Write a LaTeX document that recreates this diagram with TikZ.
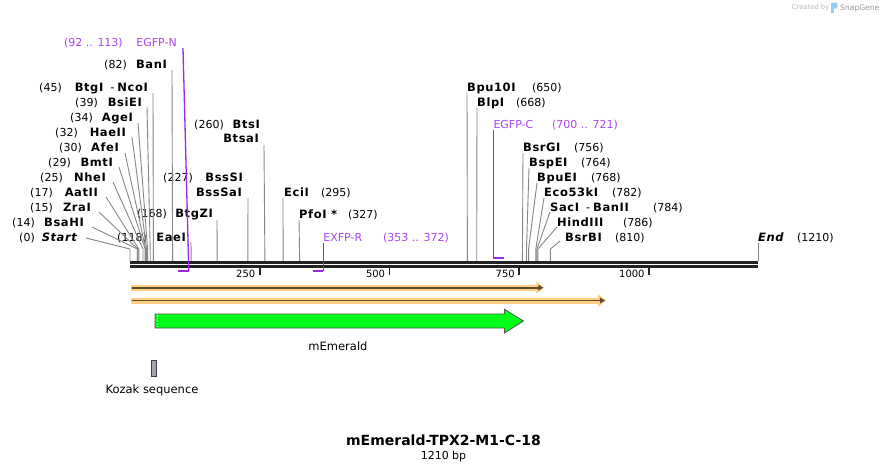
\documentclass[tikz,border=0pt]{standalone}
\usepackage{fontspec}
\setmainfont{DejaVu Sans}
\newfontfamily\sitefont[LetterSpace=5]{DejaVu Sans}
\usepackage{tikz}
\usetikzlibrary{arrows.meta,positioning}
\definecolor{backbone}{RGB}{35,35,35}
\definecolor{siteline}{RGB}{135,135,135}
\definecolor{primer}{RGB}{155,40,235}
\definecolor{primertext}{RGB}{170,70,240}
\definecolor{halo}{RGB}{255,205,130}
\definecolor{featdark}{RGB}{95,75,45}
\definecolor{emerald}{RGB}{0,255,25}
\definecolor{emeraldline}{RGB}{75,90,75}
\definecolor{kozak}{RGB}{160,165,175}
\definecolor{kozakline}{RGB}{60,62,70}
\definecolor{credit}{RGB}{185,185,185}
\definecolor{creditdark}{RGB}{150,150,150}
\definecolor{logo}{RGB}{150,205,240}
\tikzset{
  site/.style={draw=siteline, line width=0.9pt},
  enzyme/.style={font={\fontsize{11.5pt}{13pt}\sitefont\bfseries}, text height=8.4pt},
  cutpos/.style={font={\fontsize{11pt}{13pt}\selectfont}},
  primerlbl/.style={text=primertext, font={\fontsize{11pt}{13pt}\selectfont}},
  primerline/.style={draw=primer, line width=1.3pt},
  primerbar/.style={draw=primer, line width=2pt},
  bbline/.style={draw=backbone, line width=2.6pt},
  tickline/.style={draw=backbone, line width=1.8pt},
  ticklbl/.style={font={\fontsize{10pt}{12pt}\selectfont}, text height=7.3pt},
  featlbl/.style={font={\fontsize{11.5pt}{13pt}\selectfont}},
  halotrack/.style={draw=halo, line width=6pt},
  feattrack/.style={draw=featdark, line width=1.6pt}}

\begin{document}
\begin{tikzpicture}[x=1pt,y=-1pt]
\tikzstyle{every node}+=[inner sep=0pt, text height=8pt, text depth=0pt]
\useasboundingbox[fill=white] (0,0) rectangle (889,471);
% cut sites on the top strand
\coordinate (s0) at (130,261);
\coordinate (s14) at (137.3,261);
\coordinate (s15) at (137.8,261);
\coordinate (s17) at (138.8,261);
\coordinate (s25) at (143.0,261);
\coordinate (s29) at (145.1,261);
\coordinate (s30) at (145.6,261);
\coordinate (s32) at (146.6,261);
\coordinate (s34) at (147.6,261);
\coordinate (s39) at (150.2,261);
\coordinate (s45) at (153.4,261);
\coordinate (s82) at (172.6,261);
\coordinate (s118) at (191.2,261);
\coordinate (s168) at (217.2,261);
\coordinate (s227) at (247.8,261);
\coordinate (s260) at (264.9,261);
\coordinate (s295) at (283.1,261);
\coordinate (s327) at (299.7,261);
\coordinate (s650) at (467.4,261);
\coordinate (s668) at (476.7,261);
\coordinate (s756) at (522.4,261);
\coordinate (s764) at (526.5,261);
\coordinate (s768) at (528.6,261);
\coordinate (s782) at (535.8,261);
\coordinate (s784) at (536.9,261);
\coordinate (s786) at (537.9,261);
\coordinate (s810) at (550.4,261);
\coordinate (s1210) at (758,261);

% left group
\node [enzyme, anchor=east] (startlbl) at (77,237) {\itshape Start};
\node [cutpos, anchor=east] (startpos) at (35,237) {(0)};
\node [enzyme, anchor=east] (bsahi) at (84,222) {BsaHI};
\node [cutpos, anchor=east] (bsahipos) at (35,222) {(14)};
\node [enzyme, anchor=east] (zrai) at (91,207) {ZraI};
\node [cutpos, anchor=east] (zraipos) at (53,207) {(15)};
\node [enzyme, anchor=east] (aatii) at (98,192) {AatII};
\node [cutpos, anchor=east] (aatiipos) at (53,192) {(17)};
\node [enzyme, anchor=east] (nhei) at (106,177) {NheI};
\node [cutpos, anchor=east] (nheipos) at (63,177) {(25)};
\node [enzyme, anchor=east] (bmti) at (113,162) {BmtI};
\node [cutpos, anchor=east] (bmtipos) at (71,162) {(29)};
\node [enzyme, anchor=east] (afei) at (119,147) {AfeI};
\node [cutpos, anchor=east] (afeipos) at (82,147) {(30)};
\node [enzyme, anchor=east] (haeii) at (126,132) {HaeII};
\node [cutpos, anchor=east] (haeiipos) at (78,132) {(32)};
\node [enzyme, anchor=east] (agei) at (133,117) {AgeI};
\node [cutpos, anchor=east] (ageipos) at (93,117) {(34)};
\node [enzyme, anchor=east] (bsiei) at (142,102) {BsiEI};
\node [cutpos, anchor=east] (bsieipos) at (98,102) {(39)};
\node [enzyme, anchor=east] (btgi) at (148,87) {BtgI\hspace{7pt}{\mdseries -}\hspace{3pt}NcoI};
\node [cutpos, anchor=east] (btgipos) at (62,87) {(45)};
\node [enzyme, anchor=east] (bani) at (167,64) {BanI};
\node [cutpos, anchor=east] (banipos) at (127,64) {(82)};
\node [enzyme, anchor=east] (eaei) at (186,237) {EaeI};
\node [cutpos, anchor=east] (eaeipos) at (147,237) {(118)};
\node [enzyme, anchor=east] (btgzi) at (213,213) {BtgZI};
\node [cutpos, anchor=east] (btgzipos) at (167,213) {(168)};
\node [enzyme, anchor=east] (bsssi) at (243,177) {BssSI};
\node [enzyme, anchor=east] (bsssai) at (242,192) {BssSaI};
\node [cutpos, anchor=east] (bsssipos) at (193,177) {(227)};
\node [enzyme, anchor=east] (btsi) at (260,124) {BtsI};
\node [enzyme, anchor=east] (btsai) at (259,138) {BtsaI};
\node [cutpos, anchor=east] (btsipos) at (224,124) {(260)};

% right group
\node [enzyme, anchor=west] (ecii) at (284,192) {EciI};
\node [cutpos, anchor=west] (eciipos) at (321,192) {(295)};
\node [enzyme, anchor=west] (pfoi) at (299,214) {PfoI *};
\node [cutpos, anchor=west] (pfoipos) at (348,214) {(327)};
\node [enzyme, anchor=west] (bpui) at (467,87) {Bpu10I};
\node [cutpos, anchor=west] (bpuipos) at (532,87) {(650)};
\node [enzyme, anchor=west] (blpi) at (477,102) {BlpI};
\node [cutpos, anchor=west] (blpipos) at (516,102) {(668)};
\node [enzyme, anchor=west] (bsrgi) at (523,147) {BsrGI};
\node [cutpos, anchor=west] (bsrgipos) at (574,147) {(756)};
\node [enzyme, anchor=west] (bspei) at (529,162) {BspEI};
\node [cutpos, anchor=west] (bspeipos) at (581,162) {(764)};
\node [enzyme, anchor=west] (bpuei) at (537,177) {BpuEI};
\node [cutpos, anchor=west] (bpueipos) at (591,177) {(768)};
\node [enzyme, anchor=west] (ecoki) at (544,192) {Eco53kI};
\node [cutpos, anchor=west] (ecokipos) at (612,192) {(782)};
\node [enzyme, anchor=west] (saci) at (550,207) {SacI\hspace{7pt}{\mdseries -}\hspace{3pt}BanII};
\node [cutpos, anchor=west] (sacipos) at (653,207) {(784)};
\node [enzyme, anchor=west] (hindiii) at (557,222) {HindIII};
\node [cutpos, anchor=west] (hindiiipos) at (623,222) {(786)};
\node [enzyme, anchor=west] (bsrbi) at (565,237) {BsrBI};
\node [cutpos, anchor=west] (bsrbipos) at (615,237) {(810)};
\node [enzyme, anchor=west] (endlbl) at (758,237) {\itshape End};
\node [cutpos, anchor=west] (endpos) at (797,237) {(1210)};

\draw [site] ([shift={(9,1)}]startlbl.east) -- ([yshift=12pt]s0) -- (s0);
\draw [site] ([shift={(8,5)}]bsahi.east) -- ([yshift=12pt]s14) -- (s14);
\draw [site] ([shift={(8,5)}]zrai.east) -- ([yshift=12pt]s15) -- (s15);
\draw [site] ([shift={(8,5)}]aatii.east) -- ([yshift=12pt]s17) -- (s17);
\draw [site] ([shift={(7,5)}]nhei.east) -- ([yshift=12pt]s25) -- (s25);
\draw [site] ([shift={(6,5)}]bmti.east) -- ([yshift=12pt]s29) -- (s29);
\draw [site] ([shift={(6,6)}]afei.east) -- ([yshift=12pt]s30) -- (s30);
\draw [site] ([shift={(6,5)}]haeii.east) -- ([yshift=12pt]s32) -- (s32);
\draw [site] ([shift={(5,6)}]agei.east) -- ([yshift=12pt]s34) -- (s34);
\draw [site] ([shift={(5,5)}]bsiei.east) -- ([yshift=12pt]s39) -- (s39);
\draw [site] ([shift={(5,6)}]btgi.east) -- (s45);
\draw [site] ([shift={(5,6)}]bani.east) -- (s82);
\draw [site] ([shift={(5,5)}]eaei.east) -- (s118);
\draw [site] ([shift={(4,7)}]btgzi.east) -- (s168);
\draw [site] ([shift={(6,6)}]bsssai.east) -- (s227);
\draw [site] ([shift={(5,7)}]btsai.east) -- (s260);
\draw [site] ([shift={(-1,6)}]ecii.west) -- (s295);
\draw [site] ([shift={(0,6)}]pfoi.west) -- (s327);
\draw [site] ([shift={(0,6)}]bpui.west) -- (s650);
\draw [site] ([shift={(0,6)}]blpi.west) -- (s668);
\draw [site] ([shift={(0,6)}]bsrgi.west) -- (s756);
\draw [site] ([shift={(0,6)}]bspei.west) -- ([yshift=12pt]s764) -- (s764);
\draw [site] ([shift={(0,6)}]bpuei.west) -- ([yshift=12pt]s768) -- (s768);
\draw [site] ([shift={(0,6)}]ecoki.west) -- ([yshift=12pt]s782) -- (s782);
\draw [site] ([shift={(0,5)}]saci.west) -- ([yshift=12pt]s784) -- (s784);
\draw [site] ([shift={(0,5)}]hindiii.west) -- ([yshift=12pt]s786) -- (s786);
\draw [site] ([shift={(-5,4)}]bsrbi.west) -- ([yshift=12pt]s810) -- (s810);
\draw [site] ([shift={(0,6)}]endlbl.west) -- (s1210);

% backbone and ruler
\draw [bbline] (130,262.3) -- (758,262.3);
\draw [bbline] (130,266.3) -- (758,266.3);
\coordinate (t250) at (259.7,267);
\coordinate (t500) at (389.5,267);
\coordinate (t750) at (519.2,267);
\coordinate (t1000) at (649,267);
\draw [tickline] (t250) -- ++(0,8);
\draw [tickline] (t500) -- ++(0,8);
\draw [tickline] (t750) -- ++(0,8);
\draw [tickline] (t1000) -- ++(0,8);
\node [ticklbl, anchor=east] (l250) at (255.5,274) {250};
\node [ticklbl, anchor=east] (l500) at (385.3,274) {500};
\node [ticklbl, anchor=east] (l750) at (515,274) {750};
\node [ticklbl, anchor=east] (l1000) at (644.8,274) {1000};

% primers
\coordinate (p92) at (177.7,271);
\coordinate (p113) at (188.8,271);
\coordinate (p353) at (313.2,271);
\coordinate (p372) at (323.2,271);
\coordinate (p700) at (493.3,258);
\coordinate (p721) at (504.2,258);
\node [primerlbl, anchor=east] (egfpn) at (177,42) {EGFP-N};
\node [primerlbl, anchor=east] (egfpnpos) at (123,42) {(92 .. 113)};
\node [primerlbl, anchor=west] (exfpr) at (323.2,237) {EXFP-R};
\node [primerlbl, anchor=west] (exfprpos) at (383,237) {(353 .. 372)};
\node [primerlbl, anchor=west] (egfpc) at (493.3,124) {EGFP-C};
\node [primerlbl, anchor=west] (egfpcpos) at (552,124) {(700 .. 721)};
\draw [primerline] ([shift={(6,6)}]egfpn.east) -- (p113);
\draw [primerbar] (p92) -- (p113);
\draw [primerline] ([yshift=-6pt]exfpr.west) -- (p372);
\draw [primerbar] (p353) -- (p372);
\draw [primerline] ([yshift=-6pt]egfpc.west) -- (p700);
\draw [primerbar] (p700) -- (p721);

% features
\coordinate (f1s) at (130.7,287.7);
\coordinate (f1e) at (544.3,287.7);
\coordinate (f2s) at (130.7,300.5);
\coordinate (f2e) at (606,300.5);
\draw [halotrack, -{Triangle[length=8pt,width=12pt]}] (f1s) -- (f1e);
\draw [feattrack, -{Triangle[length=5pt,width=5.5pt]}] ([xshift=1pt]f1s) -- ([xshift=-1pt]f1e);
\draw [halotrack, -{Triangle[length=8pt,width=12pt]}] (f2s) -- (f2e);
\draw [feattrack, -{Triangle[length=5pt,width=5.5pt]}] ([xshift=1pt]f2s) -- ([xshift=-1pt]f2e);

\draw [fill=emerald, draw=emeraldline, line width=0.8pt] (155,314) -- (504.5,314) -- (504.5,309.3)
  -- (523.5,321) -- (504.5,333) -- (504.5,328) -- (155,328) -- cycle;
\draw [white, line width=0.8pt, dash pattern=on 0.8pt off 0.8pt] (157.2,314.8) -- (157.2,327.2);
\node [featlbl] (memerald) at (338,346) {mEmerald};

\draw [fill=kozak, draw=kozakline, line width=0.8pt] (151.5,360.3) rectangle (156.3,376);
\node [featlbl] (kozaklbl) at (152,389) {Kozak sequence};

% title
\node [font={\fontsize{14pt}{16pt}\selectfont\bfseries}, text height=10.2pt] (title) at (443.5,440) {mEmerald-TPX2-M1-C-18};
\node [font={\fontsize{11pt}{13pt}\selectfont}, below=6pt of title] (length) {1210 bp};

% credit
\node [font={\fontsize{6.8pt}{8pt}\selectfont}, text=credit, text height=5pt, anchor=west] (created) at (791.7,7) {Created by};
\fill [logo] (831,2.5) rectangle (833.6,13);
\fill [logo, rounded corners=1.5pt] (831,2.5) -- (837.5,2.5) -- (837.5,8.5) -- (831,8.5) -- cycle;
\node [font={\fontsize{7.6pt}{9pt}\selectfont}, text=creditdark, text height=5.6pt, anchor=west] (snapgene) at (840,7.5) {SnapGene};
\end{tikzpicture}
\end{document}
